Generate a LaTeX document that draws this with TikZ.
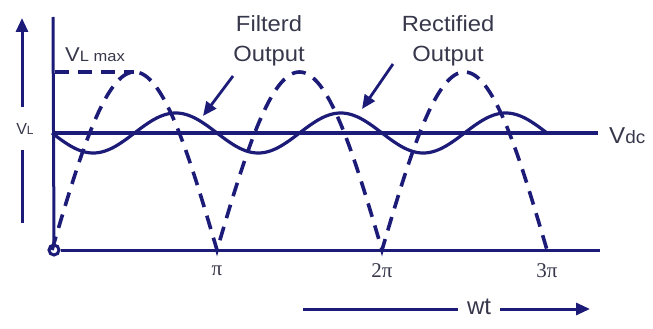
\documentclass[tikz,border=0pt]{standalone}
\usepackage{fontspec}
\setmainfont{Liberation Sans}
\newfontfamily\serifpi{Liberation Serif}
\usetikzlibrary{arrows.meta}
\definecolor{navy}{RGB}{28,28,120}
\definecolor{lbl}{RGB}{55,55,75}
\tikzset{
  axisline/.style={navy,line width=3pt},
  rectline/.style={navy,line width=3.6pt,dash pattern=on 14pt off 9pt},
  filtline/.style={navy,line width=3.2pt},
  lblarrow/.style={navy,line width=2.8pt,-{Triangle[length=14pt,width=12pt]}},
  lbltext/.style={text=lbl,inner sep=0pt,font=\fontsize{22}{30}\selectfont,align=center,xscale=1.08},
  ticktext/.style={text=lbl,inner sep=0pt,font=\serifpi\fontsize{21}{21}\selectfont},
}
\begin{document}
\begin{tikzpicture}[x=1pt,y=-1pt]
\useasboundingbox (0,0) rectangle (653,329);
% axes
\coordinate (ytop) at (53,17);
\coordinate (xend) at (600,250);
\coordinate (dcstart) at (53,133);
\coordinate (dcend) at (598,133);
\node[circle,draw=navy,line width=3pt,fill=white,minimum size=10pt,inner sep=0pt] (o) at (54,250) {};
\draw[axisline] (o.north) -- (ytop);
\draw[axisline] (o.east) -- (xend);
\draw[axisline,line width=3.3pt] (dcstart) -- (dcend);
% VL max dashed line
\coordinate (vmaxa) at (55,72);
\coordinate (vmaxb) at (134,72);
\draw[rectline] (vmaxa) -- (vmaxb);
% rectified output
\draw[rectline] plot[domain=52:547,samples=301] (\x,{250-178*abs(sin((\x-52)/165*180))});
% filtered output
\draw[filtline] plot[domain=52:547,samples=300] (\x,{133+20*sin(2*(\x-52)/165*180)});
% labels
\node[text=lbl,anchor=base west,inner sep=0pt,xscale=1.1] (vlmax) at (65,62) {\fontsize{20}{20}\selectfont V\fontsize{15}{15}\selectfont L max};
\node[text=lbl,anchor=west,inner sep=0pt,xscale=1.05] (vdc) at (609,136) {\fontsize{23}{23}\selectfont V\fontsize{18}{18}\selectfont dc};
\node[lbltext] (filt) at (269,41) {Filterd\\Output};
\node[lbltext] (rect) at (448,41) {Rectified\\Output};
\coordinate (filttip) at (203,116);
\coordinate (recttip) at (362,109);
\coordinate (filttail) at (233,76);
\coordinate (recttail) at (393,64);
\draw[lblarrow] (filttail) -- (filttip);
\draw[lblarrow] (recttail) -- (recttip);
% tick labels
\node[ticktext] (pi1) at (217,271) {π};
\node[ticktext] (pi2) at (382,271) {2π};
\node[ticktext] (pi3) at (547,271) {3π};
% VL arrow
\node[text=lbl,inner sep=0pt,minimum height=43pt] (vl) at (25,128.5) {\fontsize{16}{16}\selectfont V\fontsize{12}{12}\selectfont L};
\coordinate (vltop) at (22,18);
\coordinate (vlbot) at (22,223);
\draw[navy,line width=3pt,-{Triangle[length=14pt,width=12pt]}] (vl.north -| vltop) -- (vltop);
\draw[navy,line width=3pt] (vl.south -| vlbot) -- (vlbot);
% wt arrow
\node[text=lbl,inner ysep=0pt,inner xsep=9pt,font=\fontsize{24}{24}\selectfont] (wt) at (479,307) {wt};
\coordinate (wtstart) at (303,309);
\coordinate (wtend) at (590,309);
\draw[navy,line width=3pt] (wtstart) -- (wt.west |- wtstart);
\draw[navy,line width=3pt,-{Triangle[length=14pt,width=12pt]}] (wt.east |- wtend) -- (wtend);
\end{tikzpicture}
\end{document}
